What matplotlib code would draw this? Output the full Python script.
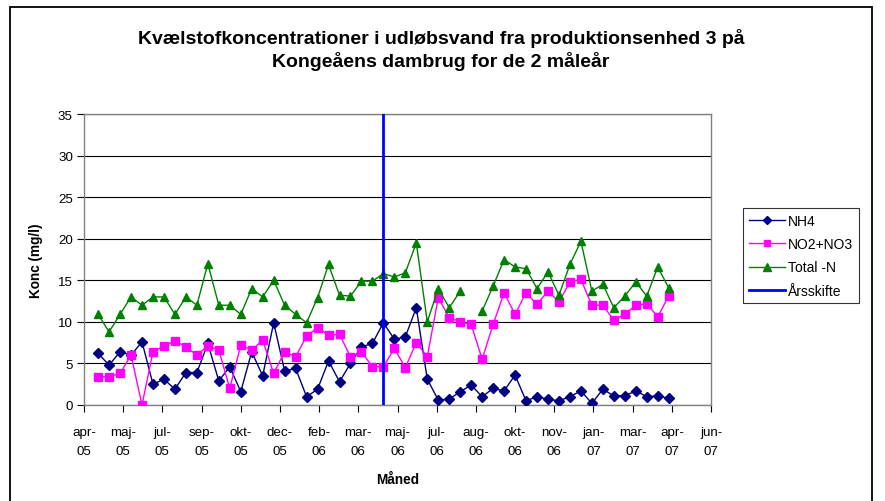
import numpy as np
import pandas as pd
import matplotlib
matplotlib.use("Agg")
import matplotlib.pyplot as plt
import matplotlib.dates as mdates
from matplotlib.patches import Rectangle
from matplotlib.lines import Line2D

plt.rcParams['font.family'] = ['Liberation Sans', 'DejaVu Sans']

# ---- data ----
first_sample = "2005-04-26"
n_samples = 53
sample_step = "14D"
aarsskifte = "2006-04-25"

nh4 = [6.2, 4.8, 6.4, 6.0, 7.6, 2.5, 3.1, 1.9, 3.9, 3.9, 7.4, 2.9, 4.6, 1.6,
       6.4, 3.5, 9.9, 4.1, 4.4, 1.0, 1.9, 5.3, 2.8, 5.0, 7.0, 7.4, 9.9,
       7.9, 8.2, 11.7, 3.1, 0.6, 0.7, 1.6, 2.4, 1.0, 2.0, 1.7, 3.6, 0.5,
       1.0, 0.7, 0.5, 1.0, 1.7, 0.2, 1.9, 1.1, 1.1, 1.7, 1.0, 1.1, 0.8]
no2_no3 = [3.4, 3.4, 3.8, 6.0, 0.0, 6.4, 7.1, 7.7, 7.0, 6.0, 7.1, 6.6, 2.0, 7.2,
           6.6, 7.8, 3.8, 6.4, 5.8, 8.3, 9.3, 8.4, 8.5, 5.8, 6.4, 4.6, 4.6,
           6.8, 4.5, 7.5, 5.8, 12.9, 10.5, 10.0, 9.7, 5.5, 9.7, 13.5, 10.9, 13.5,
           12.1, 13.7, 12.4, 14.8, 15.1, 12.0, 12.0, 10.2, 10.9, 12.0, 12.2, 10.6, 13.1]
total_n = [10.9, 8.8, 10.9, 13.0, 12.0, 13.0, 13.0, 10.9, 13.0, 12.0, 17.0, 12.0, 12.0, 10.9,
           14.0, 13.0, 15.0, 12.0, 10.9, 9.9, 12.9, 16.9, 13.2, 13.1, 14.9, 14.9, 15.8,
           15.4, 15.9, 19.5, 10.0, 14.0, 11.7, 13.7, np.nan, 11.3, 14.3, 17.5, 16.6, 16.4,
           14.0, 16.0, 13.2, 16.9, 19.7, 13.7, 14.5, 11.7, 13.1, 14.8, 13.1, 16.6, 14.1]

axis_start = "2005-04-08"
tick_step = "50D"
tick_labels = ["apr-\n05", "maj-\n05", "jul-\n05", "sep-\n05", "okt-\n05", "dec-\n05",
               "feb-\n06", "mar-\n06", "maj-\n06", "jul-\n06", "aug-\n06", "okt-\n06",
               "nov-\n06", "jan-\n07", "mar-\n07", "apr-\n07", "jun-\n07"]

title = "Kvælstofkoncentrationer i udløbsvand fra produktionsenhed 3 på\nKongeåens dambrug for de 2 måleår"

# ---- figure ----
W, H = 885, 502
fig = plt.figure(figsize=(W / 100, H / 100), dpi=100)
fig.patch.set_facecolor("white")

# chart area frame
fig.patches.append(Rectangle((10 / W, -0.05), (872 - 10) / W, 1 - 8 / H + 0.05,
                             transform=fig.transFigure, fill=False,
                             edgecolor="black", linewidth=1.3))

L, R, T, B = 84, 711, 115, 406
ax = fig.add_axes([L / W, 1 - B / H, (R - L) / W, (B - T) / H])

dates = pd.date_range(first_sample, periods=n_samples, freq=sample_step)
ticks = pd.date_range(axis_start, periods=len(tick_labels), freq=tick_step)

ax.plot(dates, nh4, color="#000080", lw=1.0, marker="D", ms=4.8,
        markerfacecolor="#000080", markeredgecolor="#000080", label="NH4", zorder=3)
ax.plot(dates, no2_no3, color="#FF00FF", lw=1.0, marker="s", ms=5.2,
        markerfacecolor="#FF00FF", markeredgecolor="#FF00FF", label="NO2+NO3", zorder=3)
ax.plot(dates, total_n, color="#008000", lw=1.0, marker="^", ms=6.0,
        markerfacecolor="#008000", markeredgecolor="#008000", label="Total -N", zorder=3)
ax.axvline(pd.Timestamp(aarsskifte), color="#0000FF", lw=2.0, zorder=4, label="Årsskifte")

ax.set_xlim(ticks[0], ticks[-1])
ax.set_ylim(0, 35)
ax.set_yticks(np.arange(0, 36, 5))
ax.set_xticks(ticks)
ax.set_xticklabels(tick_labels, fontsize=9.6, linespacing=1.75)
ax.tick_params(axis="y", labelsize=9.6, direction="out", length=5, width=0.8, pad=3, colors="black")
ax.tick_params(axis="x", direction="out", length=5, width=0.8, pad=10, colors="black")
ax.yaxis.grid(True, color="black", linewidth=0.8)
ax.set_axisbelow(True)
for s in ax.spines.values():
    s.set_color("#808080")
    s.set_linewidth(1.0)

ax.set_ylabel("Konc (mg/l)", fontsize=9.8, fontweight="bold", labelpad=11)
ax.set_xlabel("Måned", fontsize=9.8, fontweight="bold", labelpad=11)

fig.text(441 / W, 1 - 50 / H, title, ha="center", va="center", fontsize=14,
         fontweight="bold", linespacing=1.3)

handles = [Line2D([], [], color="#000080", lw=1.0, marker="D", ms=4.5),
           Line2D([], [], color="#FF00FF", lw=1.0, marker="s", ms=5),
           Line2D([], [], color="#008000", lw=1.0, marker="^", ms=5.5),
           Line2D([], [], color="#0000FF", lw=2.0)]
leg = fig.legend(handles, ["NH4", "NO2+NO3", "Total -N", "Årsskifte"],
                 loc="upper left", bbox_to_anchor=(743 / W, 1 - 209 / H),
                 fontsize=10, frameon=True, fancybox=False, edgecolor="black",
                 handlelength=2.6, handletextpad=0.25, borderpad=0.4,
                 labelspacing=0.68, borderaxespad=0)
leg.get_frame().set_linewidth(0.8)

fig.savefig("out.png", dpi=100)
